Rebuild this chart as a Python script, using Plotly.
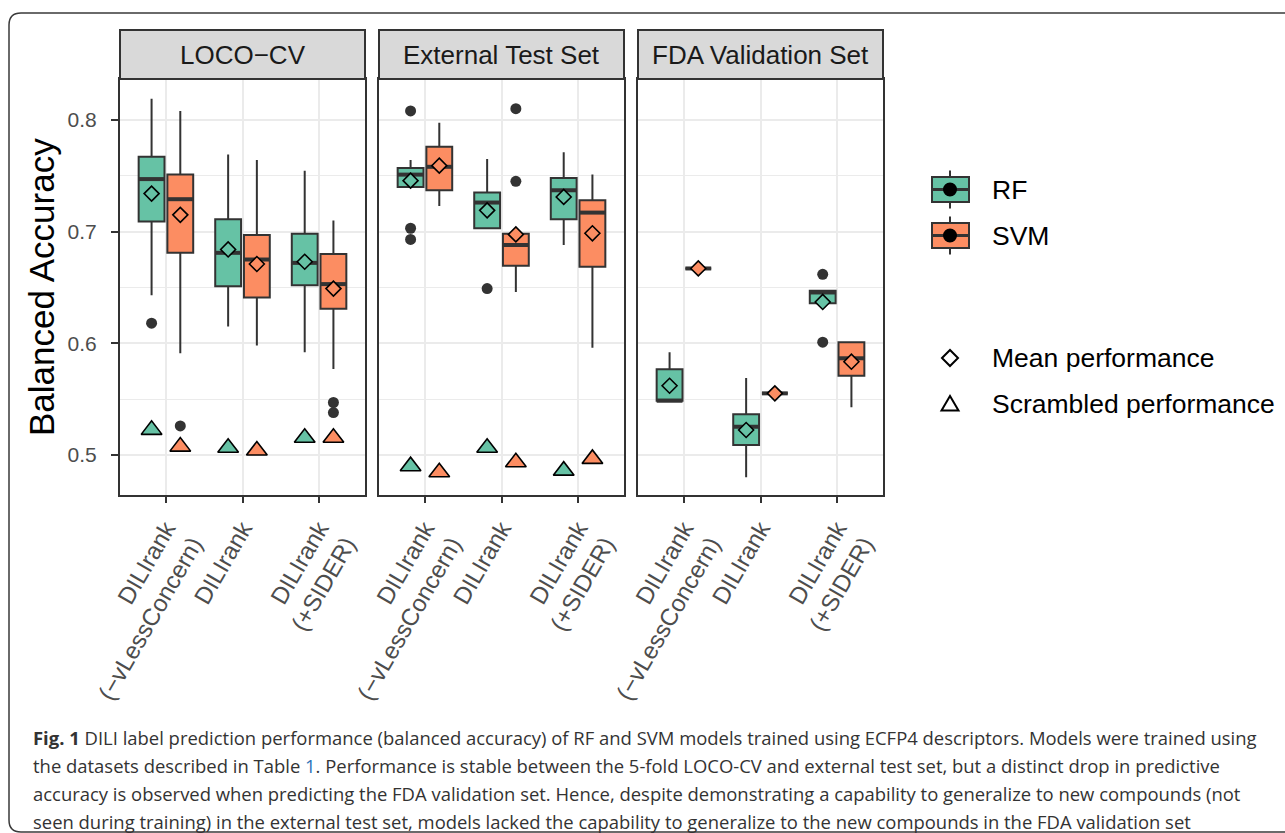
import plotly.graph_objects as go

W, H = 1285, 833

# ---------------- data ----------------
panels = ["LOCO−CV", "External Test Set", "FDA Validation Set"]
categories = ["DILIrank<br>(−vLessConcern)", "DILIrank", "DILIrank<br>(+SIDER)"]
models = ["RF", "SVM"]
colors = {"RF": "#66c2a5", "SVM": "#fc8d62"}

# LOCO-CV
loco_rf_upper = [0.819, 0.769, 0.7545]
loco_rf_q3 = [0.767, 0.711, 0.698]
loco_rf_median = [0.747, 0.681, 0.672]
loco_rf_q1 = [0.709, 0.651, 0.652]
loco_rf_lower = [0.643, 0.615, 0.592]
loco_rf_mean = [0.734, 0.684, 0.673]
loco_rf_scrambled = [0.5225, 0.5065, 0.5155]
loco_rf_outliers = [[0.618], [], []]

loco_svm_upper = [0.808, 0.764, 0.710]
loco_svm_q3 = [0.751, 0.697, 0.680]
loco_svm_median = [0.729, 0.675, 0.653]
loco_svm_q1 = [0.681, 0.641, 0.631]
loco_svm_lower = [0.591, 0.598, 0.577]
loco_svm_mean = [0.715, 0.671, 0.649]
loco_svm_scrambled = [0.5075, 0.504, 0.5155]
loco_svm_outliers = [[0.526], [], [0.547, 0.538]]

# External test set
ext_rf_upper = [0.764, 0.765, 0.771]
ext_rf_q3 = [0.757, 0.735, 0.748]
ext_rf_median = [0.751, 0.726, 0.737]
ext_rf_q1 = [0.740, 0.703, 0.711]
ext_rf_lower = [0.740, 0.702, 0.688]
ext_rf_mean = [0.7456, 0.719, 0.731]
ext_rf_scrambled = [0.490, 0.5065, 0.486]
ext_rf_outliers = [[0.808, 0.703, 0.693], [0.649], []]

ext_svm_upper = [0.7975, 0.698, 0.751]
ext_svm_q3 = [0.776, 0.698, 0.728]
ext_svm_median = [0.758, 0.688, 0.717]
ext_svm_q1 = [0.737, 0.6695, 0.6686]
ext_svm_lower = [0.723, 0.646, 0.596]
ext_svm_mean = [0.759, 0.6975, 0.6985]
ext_svm_scrambled = [0.4845, 0.4935, 0.4965]
ext_svm_outliers = [[], [0.810, 0.745], []]

# FDA validation set (no scrambled runs)
fda_rf_upper = [0.592, 0.569, 0.647]
fda_rf_q3 = [0.5767, 0.5364, 0.647]
fda_rf_median = [0.5486, 0.5253, 0.6455]
fda_rf_q1 = [0.5486, 0.509, 0.6358]
fda_rf_lower = [0.5486, 0.480, 0.6358]
fda_rf_mean = [0.562, 0.5224, 0.637]
fda_rf_scrambled = [None, None, None]
fda_rf_outliers = [[], [], [0.6618, 0.601]]

fda_svm_upper = [0.667, 0.5552, 0.601]
fda_svm_q3 = [0.667, 0.5552, 0.601]
fda_svm_median = [0.667, 0.5552, 0.5866]
fda_svm_q1 = [0.667, 0.5552, 0.571]
fda_svm_lower = [0.667, 0.5552, 0.5427]
fda_svm_mean = [0.667, 0.5552, 0.5835]
fda_svm_scrambled = [None, None, None]
fda_svm_outliers = [[], [], []]

y_ticks = [0.5, 0.6, 0.7, 0.8]
y_ticktext = ["0.5", "0.6", "0.7", "0.8"]
y_minor = [0.55, 0.65, 0.75]

caption_lines = [
    "<b>Fig. 1</b> DILI label prediction performance (balanced accuracy) of RF and SVM models trained using ECFP4 descriptors. Models were trained using",
    "the datasets described in Table <span style='color:#2a74b9'>1</span>. Performance is stable between the 5-fold LOCO-CV and external test set, but a distinct drop in predictive",
    "accuracy is observed when predicting the FDA validation set. Hence, despite demonstrating a capability to generalize to new compounds (not",
    "seen during training) in the external test set, models lacked the capability to generalize to the new compounds in the FDA validation set",
]

stats = {
    0: {"RF": (loco_rf_lower, loco_rf_q1, loco_rf_median, loco_rf_q3, loco_rf_upper, loco_rf_mean, loco_rf_scrambled, loco_rf_outliers),
        "SVM": (loco_svm_lower, loco_svm_q1, loco_svm_median, loco_svm_q3, loco_svm_upper, loco_svm_mean, loco_svm_scrambled, loco_svm_outliers)},
    1: {"RF": (ext_rf_lower, ext_rf_q1, ext_rf_median, ext_rf_q3, ext_rf_upper, ext_rf_mean, ext_rf_scrambled, ext_rf_outliers),
        "SVM": (ext_svm_lower, ext_svm_q1, ext_svm_median, ext_svm_q3, ext_svm_upper, ext_svm_mean, ext_svm_scrambled, ext_svm_outliers)},
    2: {"RF": (fda_rf_lower, fda_rf_q1, fda_rf_median, fda_rf_q3, fda_rf_upper, fda_rf_mean, fda_rf_scrambled, fda_rf_outliers),
        "SVM": (fda_svm_lower, fda_svm_q1, fda_svm_median, fda_svm_q3, fda_svm_upper, fda_svm_mean, fda_svm_scrambled, fda_svm_outliers)},
}

# ---------------- layout helpers ----------------
def px(x):
    return x / W

def py(y):
    return 1 - y / H

DARK = "#333333"
GRID = "#ebebeb"
FONT = "Liberation Sans, Arial, Helvetica, sans-serif"
panel_x = [(120, 365), (379, 624), (638, 883)]
panel_top, panel_bottom, strip_top = 79, 495, 30
dodge = {"RF": -0.1875, "SVM": 0.1875}
box_w = 0.3375

fig = go.Figure()

for p in range(3):
    xa = "x" if p == 0 else f"x{p+1}"
    ya = "y" if p == 0 else f"y{p+1}"
    for m in models:
        lower, q1, med, q3, upper, mean, scr, outl = stats[p][m]
        pos = [i + 1 + dodge[m] for i in range(len(categories))]
        fig.add_trace(go.Box(
            x=pos, q1=q1, median=med, q3=q3, lowerfence=lower, upperfence=upper,
            width=box_w, whiskerwidth=0, boxpoints=False,
            fillcolor=colors[m], line=dict(color=DARK, width=2),
            xaxis=xa, yaxis=ya, showlegend=False, hoverinfo="skip"))
        # thicker median line (ggplot fatten)
        mx, my = [], []
        for xp, mv in zip(pos, med):
            mx += [xp - box_w / 2, xp + box_w / 2, None]
            my += [mv, mv, None]
        fig.add_trace(go.Scatter(x=mx, y=my, mode="lines", line=dict(color=DARK, width=4),
                                 xaxis=xa, yaxis=ya, showlegend=False, hoverinfo="skip"))
        # outliers
        ox, oy = [], []
        for xp, vals in zip(pos, outl):
            for v in vals:
                ox.append(xp)
                oy.append(v)
        if ox:
            fig.add_trace(go.Scatter(x=ox, y=oy, mode="markers",
                                     marker=dict(color=DARK, size=11, symbol="circle"),
                                     xaxis=xa, yaxis=ya, showlegend=False, hoverinfo="skip"))
        # mean diamonds
        fig.add_trace(go.Scatter(x=pos, y=mean, mode="markers",
                                 marker=dict(symbol="diamond", size=11.5, color=colors[m],
                                             line=dict(color="black", width=1.6)),
                                 xaxis=xa, yaxis=ya, showlegend=False, hoverinfo="skip"))
        # scrambled triangles
        if any(v is not None for v in scr):
            fig.add_trace(go.Scatter(x=pos, y=scr, mode="markers",
                                     marker=dict(symbol="triangle-up", size=18, color=colors[m],
                                                 line=dict(color="black", width=1.6)),
                                     xaxis=xa, yaxis=ya, showlegend=False, hoverinfo="skip"))

yrange = [0.4642, 0.8366]
layout = dict(
    width=W, height=H, margin=dict(l=0, r=0, t=0, b=0, pad=0, autoexpand=False),
    paper_bgcolor="white", plot_bgcolor="white",
    font=dict(family=FONT, color="black"),
    showlegend=False,
)
for p in range(3):
    xk = "xaxis" if p == 0 else f"xaxis{p+1}"
    yk = "yaxis" if p == 0 else f"yaxis{p+1}"
    x0, x1 = panel_x[p]
    layout[xk] = dict(
        domain=[px(x0), px(x1)], range=[0.4, 3.6], anchor="y" if p == 0 else f"y{p+1}",
        tickvals=[1, 2, 3], ticktext=categories, tickangle=-60, automargin=False,
        tickfont=dict(size=24, color="#4d4d4d", family=FONT),
        ticks="outside", ticklen=6, tickwidth=1.5, tickcolor=DARK,
        ticklabelstandoff=2,
        showgrid=True, gridcolor=GRID, gridwidth=2, zeroline=False,
        showline=True, mirror=True, linecolor=DARK, linewidth=2,
    )
    layout[yk] = dict(
        domain=[py(panel_bottom), py(panel_top)], range=yrange, automargin=False,
        anchor="x" if p == 0 else f"x{p+1}",
        tickvals=y_ticks, ticktext=y_ticktext,
        tickfont=dict(size=21, color="#4d4d4d", family=FONT),
        showticklabels=(p == 0), ticks="outside" if p == 0 else "",
        ticklen=7, tickwidth=1.5, tickcolor=DARK, ticklabelstandoff=10,
        showgrid=True, gridcolor=GRID, gridwidth=2, zeroline=False,
        minor=dict(tickvals=y_minor, showgrid=True, gridcolor=GRID, gridwidth=1, ticks=""),
        showline=True, mirror=True, linecolor=DARK, linewidth=2,
    )
    if p > 0:
        layout[yk]["matches"] = "y"

shapes = []
annotations = []
# strips
for p in range(3):
    x0, x1 = panel_x[p]
    shapes.append(dict(type="rect", xref="paper", yref="paper",
                       x0=px(x0), x1=px(x1), y0=py(panel_top), y1=py(strip_top),
                       fillcolor="#d9d9d9", line=dict(color=DARK, width=2), layer="above"))
    annotations.append(dict(text=panels[p], xref="paper", yref="paper",
                            x=px((x0 + x1) / 2), y=py((strip_top + panel_top) / 2 + 1),
                            xanchor="center", yanchor="middle", showarrow=False,
                            font=dict(size=26, color="#1a1a1a", family=FONT)))

# y axis title
annotations.append(dict(text="Balanced Accuracy", xref="paper", yref="paper",
                        x=px(41), y=py(287), textangle=-90, showarrow=False,
                        xanchor="center", yanchor="middle",
                        font=dict(size=35, color="black", family=FONT)))

# legend (drawn manually to mimic ggplot keys)
LEG = 26.5
for m, cy in (("RF", 189.5), ("SVM", 235.5)):
    shapes.append(dict(type="line", xref="paper", yref="paper",
                       x0=px(950), x1=px(950), y0=py(cy - 19), y1=py(cy + 19),
                       line=dict(color=DARK, width=2)))
    shapes.append(dict(type="rect", xref="paper", yref="paper",
                       x0=px(932), x1=px(969), y0=py(cy + 12.5), y1=py(cy - 12.5),
                       fillcolor=colors[m], line=dict(color=DARK, width=2)))
    shapes.append(dict(type="line", xref="paper", yref="paper",
                       x0=px(932), x1=px(969), y0=py(cy), y1=py(cy),
                       line=dict(color=DARK, width=3)))
    shapes.append(dict(type="circle", xref="paper", yref="paper",
                       x0=px(943), x1=px(957), y0=py(cy + 7), y1=py(cy - 7),
                       fillcolor="black", line=dict(color="black", width=0)))
    annotations.append(dict(text=m, xref="paper", yref="paper", x=px(990), y=py(cy),
                            xanchor="left", yanchor="middle", showarrow=False,
                            font=dict(size=LEG, color="black", family=FONT)))

# diamond key
cx, cy = 950, 358
shapes.append(dict(type="path", xref="paper", yref="paper",
                   path=f"M {px(cx-8)},{py(cy)} L {px(cx)},{py(cy-8)} L {px(cx+8)},{py(cy)} L {px(cx)},{py(cy+8)} Z",
                   line=dict(color="black", width=2), fillcolor="rgba(0,0,0,0)"))
annotations.append(dict(text="Mean performance", xref="paper", yref="paper", x=px(990), y=py(cy),
                        xanchor="left", yanchor="middle", showarrow=False,
                        font=dict(size=LEG, color="black", family=FONT)))
# triangle key
cx, cy = 950, 404
shapes.append(dict(type="path", xref="paper", yref="paper",
                   path=f"M {px(cx-8.5)},{py(cy+6.5)} L {px(cx+8.5)},{py(cy+6.5)} L {px(cx)},{py(cy-8)} Z",
                   line=dict(color="black", width=2), fillcolor="rgba(0,0,0,0)"))
annotations.append(dict(text="Scrambled performance", xref="paper", yref="paper", x=px(990), y=py(cy),
                        xanchor="left", yanchor="middle", showarrow=False,
                        font=dict(size=LEG, color="black", family=FONT)))

# caption
for i, line in enumerate(caption_lines):
    annotations.append(dict(text=line, xref="paper", yref="paper", x=px(31), y=py(737 + 28 * i),
                            xanchor="left", yanchor="middle", showarrow=False, align="left",
                            font=dict(size=18.45, color="#333333", family="Open Sans, sans-serif")))

# outer rounded frame
r = 12
x_l, y_t, y_b = 9, 13, 832
shapes.append(dict(type="path", xref="paper", yref="paper",
                   path=(f"M {px(1290)},{py(y_t)} L {px(x_l + r)},{py(y_t)} "
                         f"Q {px(x_l)},{py(y_t)} {px(x_l)},{py(y_t + r)} "
                         f"L {px(x_l)},{py(y_b - r)} Q {px(x_l)},{py(y_b)} {px(x_l + r)},{py(y_b)} "
                         f"L {px(1290)},{py(y_b)}"),
                   line=dict(color="#3a3a3a", width=1.5), fillcolor="rgba(0,0,0,0)"))

layout["shapes"] = shapes
layout["annotations"] = annotations
fig.update_layout(**layout)

fig.write_html("out.html", config={"displayModeBar": False},
               post_script="document.body.style.margin='0px';")
